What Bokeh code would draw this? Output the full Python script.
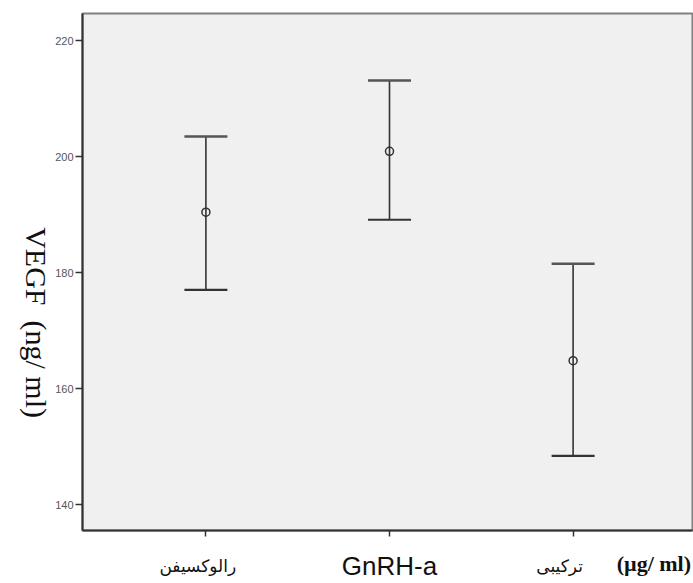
import math
from bokeh.plotting import figure
from bokeh.models import (ColumnDataSource, Whisker, TeeHead, FixedTicker,
                          Range1d, LinearAxis)
from bokeh.embed import file_html
from bokeh.resources import INLINE

# ---- data ----
categories = ["رالوکسیفن", "GnRH-a", "ترکیبی"]
means = [190.4, 200.9, 164.8]
lowers = [177.0, 189.1, 148.4]
uppers = [203.45, 213.1, 181.5]
y_ticks = [140, 160, 180, 200, 220]
y_title_main = "VEGF"
y_title_unit = "(ng/ ml)"
x_unit = "(µg/ ml)"

xs = [1, 2, 3]
NB = "\u00a0"
pad = [3, 0, 5]   # trailing spaces that nudge the persian labels left

p = figure(width=693, height=583, output_backend="svg", toolbar_location=None,
           x_range=Range1d(0.3279, 3.6503), y_range=Range1d(135.52, 224.66),
           min_border_left=82, min_border_right=1, min_border_top=13,
           min_border_bottom=53)
p.background_fill_color = "#f0f0f0"
p.border_fill_color = "white"
p.outline_line_color = "#808080"
p.outline_line_width = 2
p.grid.visible = False

# y axis
p.yaxis.ticker = FixedTicker(ticks=y_ticks)
p.yaxis.minor_tick_line_color = None
p.yaxis.major_tick_out = 7
p.yaxis.major_tick_in = 0
p.yaxis.major_tick_line_color = "#333333"
p.yaxis.major_tick_line_width = 1.5
p.yaxis.axis_line_color = "#333333"
p.yaxis.axis_line_width = 2
p.yaxis.major_label_text_font = "Liberation Sans"
p.yaxis.major_label_text_font_size = "11px"
p.yaxis.major_label_text_color = "#555555"
p.yaxis.major_label_standoff = 2
p.yaxis.axis_label = y_title_main + NB * 2 + y_title_unit + NB * 15
p.yaxis.axis_label_orientation = -math.pi / 2
p.yaxis.axis_label_align = "start"
p.yaxis.axis_label_standoff_mode = "axis"
p.yaxis.axis_label_standoff = 46
p.yaxis.axis_label_text_font = "Liberation Serif"
p.yaxis.axis_label_text_font_size = "30px"
p.yaxis.axis_label_text_font_style = "normal"
p.yaxis.axis_label_text_color = "#111111"

# x axis (inner): ticks and the latin category label
ax = p.xaxis[0]
ax.ticker = FixedTicker(ticks=xs)
ax.minor_tick_line_color = None
ax.major_tick_out = 6
ax.major_tick_in = 0
ax.major_tick_line_color = "#333333"
ax.major_tick_line_width = 1.5
ax.axis_line_color = "#333333"
ax.axis_line_width = 2
ax.major_label_overrides = {x: (c if c.isascii() else "") for x, c in zip(xs, categories)}
ax.major_label_text_font = "Liberation Sans"
ax.major_label_text_font_size = "26px"
ax.major_label_text_color = "#111111"
ax.major_label_standoff = 14

# x axis (outer): the persian category labels
ax2 = LinearAxis(ticker=FixedTicker(ticks=xs))
ax2.major_label_overrides = {x: ("" if c.isascii() else c + NB * n)
                             for x, c, n in zip(xs, categories, pad)}
ax2.major_tick_out = 0
ax2.major_tick_in = 0
ax2.major_tick_line_color = None
ax2.minor_tick_line_color = None
ax2.axis_line_color = None
ax2.major_label_standoff = -28
ax2.major_label_text_font = "DejaVu Sans"
ax2.major_label_text_font_size = "17px"
ax2.major_label_text_color = "#111111"
p.add_layout(ax2, "below")

# x axis unit text, placed at the right end of the category row
unit_pos = 1 + (651.5 - 205) / 183.0
ax3 = LinearAxis(ticker=FixedTicker(ticks=[unit_pos]))
ax3.major_label_overrides = {unit_pos: x_unit}
ax3.major_tick_out = 0
ax3.major_tick_in = 0
ax3.major_tick_line_color = None
ax3.minor_tick_line_color = None
ax3.axis_line_color = None
ax3.major_label_standoff = -33
ax3.major_label_text_font = "Liberation Serif"
ax3.major_label_text_font_size = "22px"
ax3.major_label_text_font_style = "bold"
ax3.major_label_text_color = "#111111"
p.add_layout(ax3, "below")

src = ColumnDataSource(dict(x=xs, mean=means, lower=lowers, upper=uppers))

w = Whisker(base="x", upper="upper", lower="lower", source=src,
            line_color="#333333", line_width=1.6,
            upper_head=TeeHead(size=43, line_color="#555555", line_width=2.5),
            lower_head=TeeHead(size=43, line_color="#333333", line_width=2.2))
p.add_layout(w)

p.scatter("x", "mean", source=src, marker="circle", size=8, fill_color=None,
          line_color="#333333", line_width=1.5)

open("out.html", "w").write(file_html(p, INLINE))
